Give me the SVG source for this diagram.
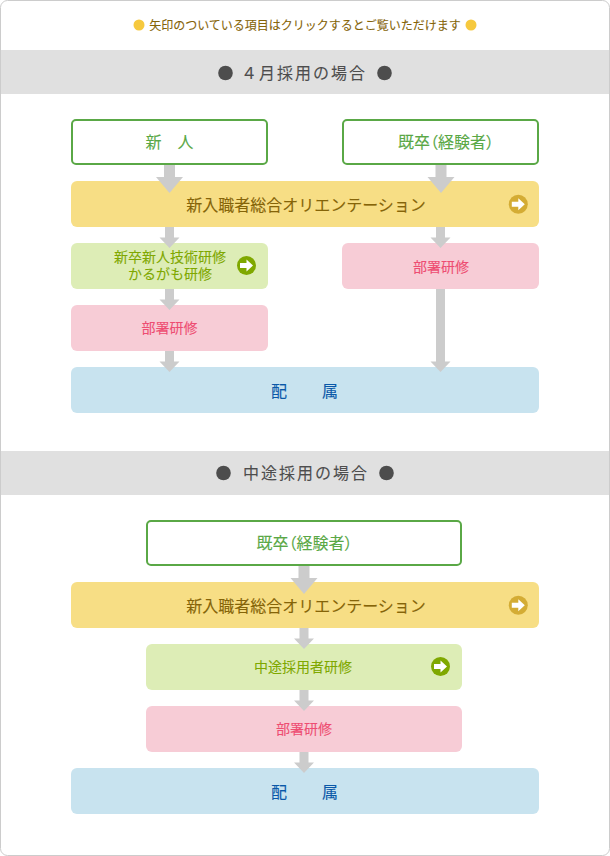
<svg xmlns="http://www.w3.org/2000/svg" width="610" height="856" viewBox="0 0 610 856">
<style>
text{font-family:"Noto Sans CJK JP","Noto Sans",sans-serif;font-size:14px;text-anchor:middle;font-weight:400;stroke-width:.1px}
.head{font-size:16px;fill:#4d4d4d;stroke:#4d4d4d;letter-spacing:2px}
.t16{font-size:16px}
.ow{fill:#fff;stroke:#5aa846;stroke-width:2}
.owt{fill:#5aa846;stroke:#5aa846}
.y{fill:#f7de85}.yt{fill:#856408;stroke:#856408}
.g{fill:#ddedb6}.gt{fill:#7fa800;stroke:#7fa800}
.p{fill:#f7ccd6}.pt{fill:#ee4d72;stroke:#ee4d72}
.b{fill:#c8e3ef}.bt{fill:#0a58a8;stroke:#0a58a8}
.arr{fill:#ccc}
.ia{fill:#fff}
.palt{font-feature-settings:'palt'}
</style>
<defs>
<path id="big" d="M-5.500 0H5.500V12H13.500L0 28L-13.500 12H-5.500Z"/>
<path id="small" d="M-4.500 0H4.500V10.500H10L0 21L-10 10.500H-4.500Z"/>
<path id="ico" d="M-6.500 -2.500H0V-6L6.500 0L0 6V2.500H-6.500Z"/>
</defs>
<g id="frame">
<rect x="0.500" y="0.500" width="609" height="855" rx="7" fill="#fff" stroke="#ccc"/>
<rect x="1" y="50" width="608" height="44" fill="#e0e0e0"/>
<rect x="1" y="451" width="608" height="44" fill="#e0e0e0"/>
</g>
<g id="notice">
<circle cx="139" cy="25" r="5.500" fill="#f6c93e"/>
<text x="305" y="30" class="yt" style="font-size:12px">矢印のついている項目はクリックするとご覧いただけます</text>
<circle cx="471" cy="25" r="5.500" fill="#f6c93e"/>
</g>
<g id="heading-april">
<circle cx="225.500" cy="73" r="7.300" fill="#4d4d4d"/>
<text class="head" x="304" y="78.500">４月採用の場合</text>
<circle cx="384.500" cy="73" r="7.300" fill="#4d4d4d"/>
</g>
<g id="heading-midcareer">
<circle cx="223.500" cy="473" r="7.300" fill="#4d4d4d"/>
<text class="head" x="306" y="479">中途採用の場合</text>
<circle cx="386.500" cy="473" r="7.300" fill="#4d4d4d"/>
</g>
<g id="n1"><rect class="ow" x="72" y="120" width="195" height="44" rx="4"/><text class="t16 owt" x="169.500" y="148">新　人</text></g>
<g id="n2"><rect class="ow" x="343" y="120" width="195" height="44" rx="4"/><text class="t16 owt palt" x="446" y="148">既卒（経験者）</text></g>
<g id="n3"><rect class="y" x="71" y="181" width="468" height="46" rx="6"/><text class="t16 yt" x="306" y="211">新入職者総合オリエンテーション</text><circle cx="518.300" cy="204.300" r="9.500" fill="#d4ac34"/><use href="#ico" class="ia" x="518.300" y="204.300"/></g>
<g id="n4"><rect class="g" x="71" y="243" width="197" height="46" rx="6"/><text class="gt" x="170" y="262">新卒新人技術研修<tspan x="170" dy="17">かるがも研修</tspan></text><circle cx="246.500" cy="265.500" r="9.500" fill="#7fa800"/><use href="#ico" class="ia" x="246.500" y="265.500"/></g>
<g id="n5"><rect class="p" x="342" y="243" width="197" height="46" rx="6"/><text class="pt" x="441" y="272">部署研修</text></g>
<g id="n6"><rect class="p" x="71" y="305" width="197" height="46" rx="6"/><text class="pt" x="169.500" y="333">部署研修</text></g>
<g id="n7"><rect class="b" x="71" y="367" width="468" height="46" rx="6"/><text class="t16 bt" x="279" y="397">配</text><text class="t16 bt" x="330" y="397">属</text></g>
<g id="n8"><rect class="ow" x="147" y="521" width="314" height="44" rx="4"/><text class="t16 owt palt" x="304.500" y="549">既卒（経験者）</text></g>
<g id="n9"><rect class="y" x="71" y="582" width="468" height="46" rx="6"/><text class="t16 yt" x="306" y="612">新入職者総合オリエンテーション</text><circle cx="518.300" cy="605.300" r="9.500" fill="#d4ac34"/><use href="#ico" class="ia" x="518.300" y="605.300"/></g>
<g id="n10"><rect class="g" x="146" y="644" width="316" height="46" rx="6"/><text class="gt" x="303" y="672">中途採用者研修</text><circle cx="440.500" cy="666.500" r="9.500" fill="#7fa800"/><use href="#ico" class="ia" x="440.500" y="666.500"/></g>
<g id="n11"><rect class="p" x="146" y="706" width="316" height="46" rx="6"/><text class="pt" x="304" y="734">部署研修</text></g>
<g id="n12"><rect class="b" x="71" y="768" width="468" height="46" rx="6"/><text class="t16 bt" x="279" y="798">配</text><text class="t16 bt" x="330" y="798">属</text></g>
<g id="connectors" class="arr">
<use href="#big" x="169.500" y="165"/>
<use href="#big" x="441" y="165"/>
<use href="#small" x="169.500" y="227"/>
<use href="#small" x="440.500" y="227"/>
<use href="#small" x="169.500" y="289"/>
<use href="#small" x="169.500" y="351"/>
<path d="M436 289H445V361.500H450.500L440.500 372L430.500 361.500H436Z"/>
<use href="#big" x="304" y="566"/>
<use href="#small" x="304" y="628"/>
<use href="#small" x="304" y="690"/>
<use href="#small" x="304" y="752"/>
</g>
</svg>
